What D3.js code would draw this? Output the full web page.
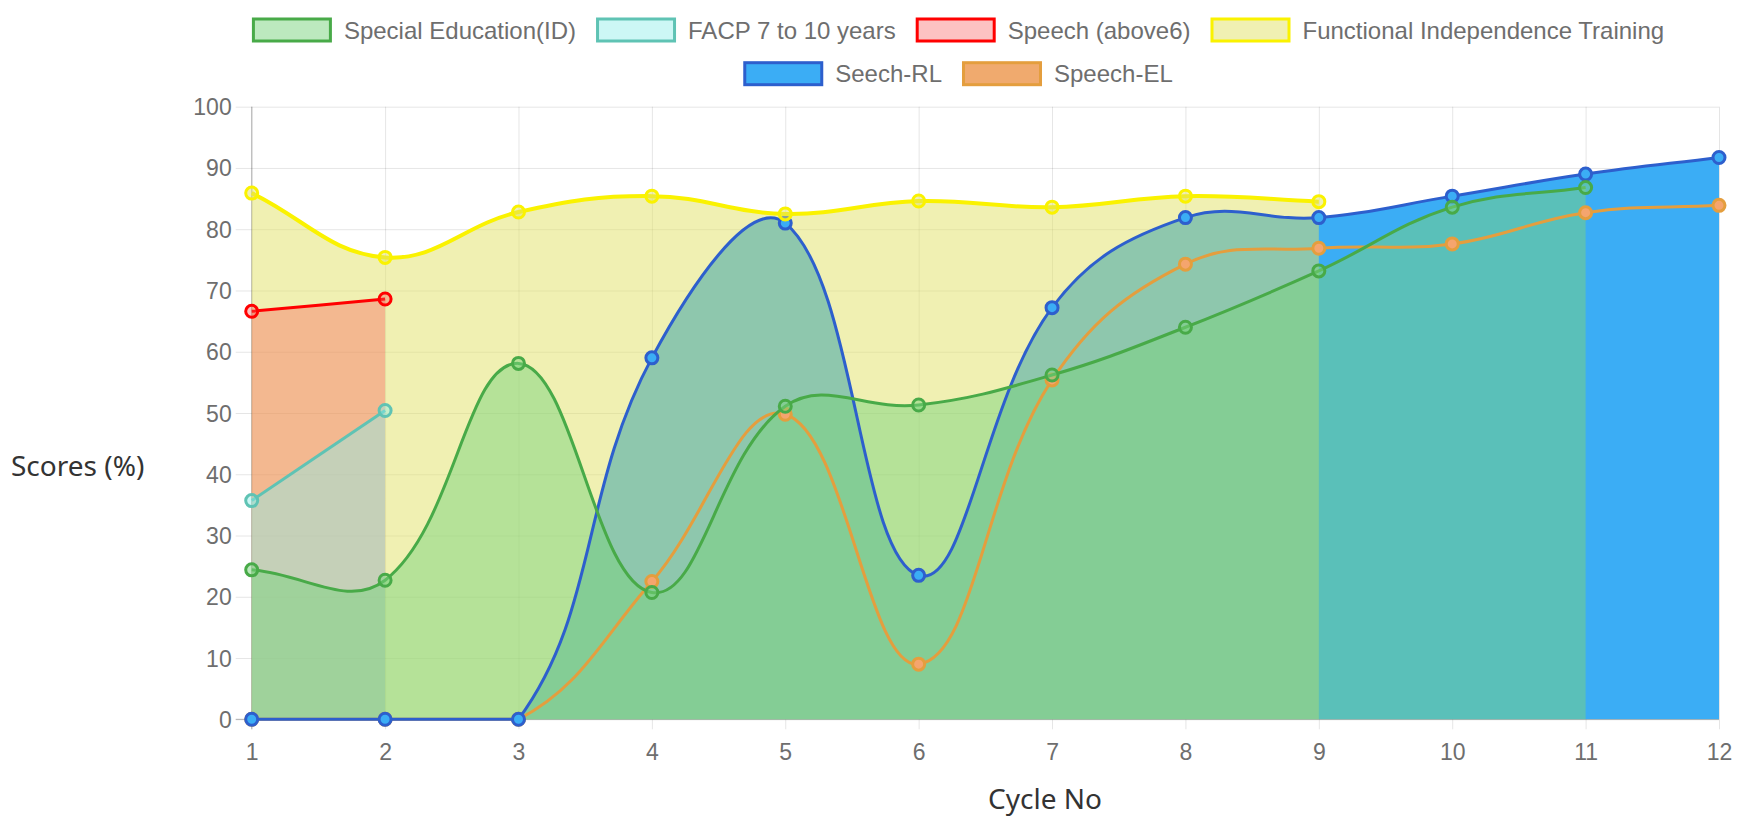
<!DOCTYPE html>
<html>
<head>
<meta charset="utf-8">
<script src="https://cdn.jsdelivr.net/npm/d3@7"></script>
<style>
    body { margin: 0; background: #fff; }
    .tick-label { font-family: "Liberation Sans", Arial, sans-serif; font-size: 23px; fill: #6e6e6e; }
    .legend-label { font-family: "Liberation Sans", Arial, sans-serif; font-size: 24px; fill: #6e6e6e; }
    .axis-title { font-family: "Noto Sans", "Open Sans", sans-serif; font-size: 28px; fill: #333; }
    .grid line { stroke: rgba(0, 0, 0, 0.1); stroke-width: 1; }
    .border { stroke: rgba(0, 0, 0, 0.28); stroke-width: 1; }
</style>
</head>
<body>
<div id="chart"></div>
<script>
// cycles on the x axis
const cycles = [1, 2, 3, 4, 5, 6, 7, 8, 9, 10, 11, 12];
const y_ticks = [0, 10, 20, 30, 40, 50, 60, 70, 80, 90, 100];

// series values (one per cycle, starting at cycle 1)
const special_education = [24.4, 22.7, 58.1, 20.7, 51.1, 51.3, 56.2, 64.0, 73.2, 83.6, 86.8];
const facp = [35.7, 50.4];
const speech_above6 = [66.6, 68.6];
const functional_training = [85.9, 75.4, 82.8, 85.4, 82.5, 84.6, 83.6, 85.4, 84.5];
const speech_rl = [0, 0, 0, 59.0, 81.0, 23.5, 67.2, 81.9, 81.9, 85.4, 89.0, 91.7];
const speech_el = [0, 0, 0, 22.5, 49.8, 9.0, 55.4, 74.3, 76.9, 77.6, 82.7, 83.9];

const series_names = [
    "Special Education(ID)",
    "FACP 7 to 10 years",
    "Speech (above6)",
    "Functional Independence Training",
    "Seech-RL",
    "Speech-EL"
];
const series_values = [special_education, facp, speech_above6, functional_training, speech_rl, speech_el];

// styling per series
const styles = [
    {line: "rgb(72,170,72)",  fill: "rgba(121,211,125,0.5)", point: "rgba(121,211,125,0.5)"},
    {line: "rgb(95,195,180)", fill: "rgba(141,237,232,0.45)", point: "rgba(141,237,232,0.45)"},
    {line: "rgb(255,0,0)",    fill: "rgba(250,80,80,0.35)",  point: "rgba(250,80,80,0.35)"},
    {line: "rgb(250,242,0)",  fill: "rgba(225,225,102,0.5)", point: "rgba(225,225,102,0.5)"},
    {line: "rgb(45,95,205)",  fill: "rgb(59,173,245)",       point: "rgb(59,173,245)"},
    {line: "rgb(228,158,62)", fill: "rgb(240,170,110)",      point: "rgb(245,165,110)"}
];

class cycleChart {
    constructor(id) {
        this.id = id;
        this.select = d3.select(`#${id}`);
        this.width = 1738;
        this.height = 821;
        this.area = {l: 251.7, r: 1719, t: 106.7, b: 719.3};
        this.tension = 0.4;

        this.init();
        this.createSVG();
        this.add_axis();
        this.add_legend();
        this.build_chart();
    }

    init() {
        this.scale_x = d3
            .scalePoint()
            .domain(cycles)
            .range([this.area.l, this.area.r]);

        this.scale_y = d3
            .scaleLinear()
            .domain([0, 100])
            .range([this.area.b, this.area.t]);

        this.series = series_names.map((name, i) => ({
            name: name,
            style: styles[i],
            points: series_values[i].map((v, j) => ({
                x: this.scale_x(cycles[j]),
                y: this.scale_y(v)
            }))
        }));
    }

    createSVG() {
        this.plot = this.select
            .append("svg")
            .attr("width", this.width)
            .attr("height", this.height);
        this.grid = this.plot.append("g").attr("class", "grid");
        this.axis_g = this.plot.append("g");
        this.fills = this.plot.append("g").attr("class", "fills");
        this.lines = this.plot.append("g").attr("class", "lines");
        this.legend = this.plot.append("g").attr("class", "legend");
    }

    add_axis() {
        const a = this.area;

        const axis_y = d3.axisLeft(this.scale_y)
            .tickValues(y_ticks)
            .tickSize(-(a.r - a.l) - 16)
            .tickPadding(4);
        const gy = this.grid.append("g")
            .attr("transform", `translate(${a.l - 16},0)`)
            .call(axis_y);
        gy.select(".domain").remove();
        gy.selectAll(".tick line").attr("x1", 0);
        gy.selectAll(".tick text")
            .attr("class", "tick-label")
            .attr("x", -4)
            .attr("dy", null)
            .attr("y", 8)
            .attr("fill", null);

        const axis_x = d3.axisBottom(this.scale_x)
            .tickSize(-(a.b - a.t) - 10)
            .tickPadding(10);
        const gx = this.grid.append("g")
            .attr("transform", `translate(0,${a.b + 10})`)
            .call(axis_x);
        gx.select(".domain").remove();
        gx.selectAll(".tick text")
            .attr("class", "tick-label")
            .attr("dy", null)
            .attr("y", 31)
            .attr("fill", null);

        gy.attr("font-family", null).attr("font-size", null);
        gx.attr("font-family", null).attr("font-size", null);

        // axis borders
        this.axis_g.append("line").attr("class", "border")
            .attr("x1", a.l).attr("x2", a.l).attr("y1", a.t).attr("y2", a.b + 10);
        this.axis_g.append("line").attr("class", "border")
            .attr("x1", a.l - 16).attr("x2", a.r).attr("y1", a.b).attr("y2", a.b);

        // titles
        this.plot.append("text")
            .attr("class", "axis-title")
            .attr("x", 11)
            .attr("y", 476)
            .text("Scores (%)");
        this.plot.append("text")
            .attr("class", "axis-title")
            .attr("x", 1045)
            .attr("y", 809)
            .attr("text-anchor", "middle")
            .text("Cycle No");
    }

    add_legend() {
        const rows = [[0, 1, 2, 3], [4, 5]];
        const row_y = [30, 73.7];
        const box_w = 80, box_h = 22, gap = 12, spacing = 20, center = 958;

        rows.forEach((row, r) => {
            const g = this.legend.append("g");
            let x = 0;
            row.forEach(i => {
                const s = this.series[i];
                g.append("rect")
                    .attr("x", x + 1.5)
                    .attr("y", row_y[r] - box_h / 2)
                    .attr("width", box_w - 3)
                    .attr("height", box_h)
                    .attr("fill", s.style.fill)
                    .attr("stroke", s.style.line)
                    .attr("stroke-width", 3);
                const t = g.append("text")
                    .attr("class", "legend-label")
                    .attr("x", x + box_w + gap)
                    .attr("y", row_y[r] + 8.6)
                    .text(s.name);
                x += box_w + gap + t.node().getComputedTextLength() + spacing;
            });
            x -= spacing;
            g.attr("transform", `translate(${center - x / 2},0)`);
        });
    }

    // same spline as chart.js v2 (tension 0.4, control points capped to chart area)
    spline(points) {
        const a = this.area;
        const cap = (v, lo, hi) => Math.max(Math.min(v, hi), lo);
        const cps = points.map((p, i) => {
            const p0 = points[i - 1] || p;
            const p2 = points[i + 1] || p;
            const d01 = Math.hypot(p.x - p0.x, p.y - p0.y);
            const d12 = Math.hypot(p2.x - p.x, p2.y - p.y);
            let s01 = d01 / (d01 + d12);
            let s12 = d12 / (d01 + d12);
            if (isNaN(s01)) s01 = 0;
            if (isNaN(s12)) s12 = 0;
            const fa = this.tension * s01, fb = this.tension * s12;
            return {
                prev: {
                    x: cap(p.x - fa * (p2.x - p0.x), a.l, a.r),
                    y: cap(p.y - fa * (p2.y - p0.y), a.t, a.b)
                },
                next: {
                    x: cap(p.x + fb * (p2.x - p0.x), a.l, a.r),
                    y: cap(p.y + fb * (p2.y - p0.y), a.t, a.b)
                }
            };
        });
        const path = d3.path();
        path.moveTo(points[0].x, points[0].y);
        for (let i = 1; i < points.length; i++) {
            path.bezierCurveTo(
                cps[i - 1].next.x, cps[i - 1].next.y,
                cps[i].prev.x, cps[i].prev.y,
                points[i].x, points[i].y
            );
        }
        return path;
    }

    area_path(points) {
        const path = this.spline(points);
        const y0 = this.scale_y(0);
        path.lineTo(points[points.length - 1].x, y0);
        path.lineTo(points[0].x, y0);
        path.closePath();
        return path.toString();
    }

    build_chart() {
        // chart.js draws the last dataset first
        const order = this.series.slice().reverse();

        // all fills first
        this.fills
            .selectAll(".fill")
            .data(order)
            .join("path")
            .attr("class", "fill")
            .attr("d", d => this.area_path(d.points))
            .attr("fill", d => d.style.fill);

        // lines and points on top
        const g = this.lines
            .selectAll(".series")
            .data(order)
            .join("g")
            .attr("class", "series");

        g.append("path")
            .attr("d", d => this.spline(d.points).toString())
            .attr("fill", "none")
            .attr("stroke", d => d.style.line)
            .attr("stroke-width", d => d.name.startsWith("Functional") ? 4 : 3);

        g.selectAll("circle")
            .data(d => d.points.map(p => ({p: p, style: d.style})))
            .join("circle")
            .attr("cx", d => d.p.x)
            .attr("cy", d => d.p.y)
            .attr("r", 6)
            .attr("fill", d => d.style.point)
            .attr("stroke", d => d.style.line)
            .attr("stroke-width", 3);
    }
}

new cycleChart("chart");
</script>
</body>
</html>
